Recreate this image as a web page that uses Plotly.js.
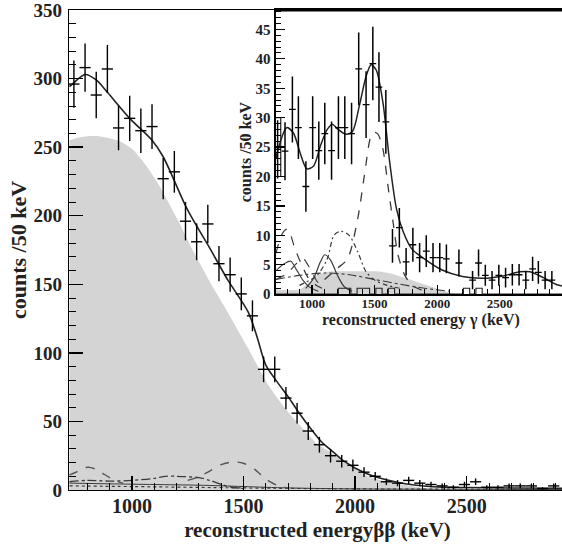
<!DOCTYPE html>
<html>
<head>
<meta charset="utf-8">
<script src="https://cdn.plot.ly/plotly-3.0.1.min.js"></script>
<style>
html,body{margin:0;padding:0;overflow:hidden;background:#fff;width:562px;height:548px;}
#chart{width:566px;height:548px;}
</style>
</head>
<body>
<div id="chart"></div>
<script>
// ---------- main panel: ββ energy ----------
var mainX = [740,790,840,890,940,990,1040,1090,1140,1190,1240,1290,1340,1390,1440,1490,1540,1590,1640,1690,1740,1790,1840,1890,1940,1990,2040,2090,2140,2190,2240,2290,2340,2390,2440,2490,2540,2590,2640,2690,2740,2790,2840,2890];
var mainY = [296,308,288,307,264,271,262,265,227,232,196,181,194,165,157,143,127,88,88,67,56,43,33,25,21,18,13,10,6,5,7,5,4,3,2,4,6,2,2,3,3,3,1,3];

var fitX = [720,740,790,840,890,990,1090,1140,1250,1350,1430,1520,1560,1600,1650,1700,1750,1800,1850,1900,1950,2050,2200,2350,2500,2700,2950];
var fitY = [294,297,303,299,290,271,255,243,204,176,153,130,112,91,79,68,56,45,35,28,21,12,5.3,2.4,1.8,1.5,1.2];

var bbX = [720,760,800,850,900,950,1006,1066,1126,1202,1277,1352,1428,1518,1609,1684,1759,1835,1895,1950,2045,2120,2196,2271,2347,2400];
var bbY = [255,257,258,258,256.5,254,248,236,221,198,173.5,151,130,104,77,60,46,33,27,21,11,7,4.5,2.4,0.6,0];

var compAX = [720,750,780,810,840,870,900,930,960];
var compAY = [11,13,16,16.5,15,12,9,6.5,5];
var compBX = [1250,1300,1350,1400,1455,1500,1550,1600,1650,1700];
var compBY = [7,9.6,14,18.5,20.5,19.5,15,8,3.5,1.5];
var compCX = [720,800,900,1000,1100,1150,1200,1300,1350,1400,1450,1500];
var compCY = [6,7,6.5,7,8.5,10,10,9,7,4,2,1];
var compDX = [720,900,1100,1300,1500,1700,2000,2500,2950];
var compDY = [5,4.5,4,3.5,2.5,1.5,0.8,0.5,0.3];
var compEX = [720,1000,1500,2000,2950];
var compEY = [3,2.5,1.5,0.8,0.4];

// ---------- inset panel: γ energy ----------
var insX = [725,784,843,891,951,1005,1054,1102,1156,1211,1262,1316,1373,1432,1486,1535,1590,1643,1698,1752,1806,1860,1913,1967,2021,2074,2174,2283,2331,2385,2439,2493,2547,2601,2655,2709,2763,2809,2863,2917];
var insY = [24.6,24.3,31.4,28.3,18.3,28.3,24.4,27.3,24.4,28.3,28.3,27.3,38.3,32.2,39.2,35.2,29.3,8.2,11.3,5.5,8.4,6.2,7.3,6.2,6.2,6,5.3,2.4,5.3,3.2,2.4,3.2,2.8,3.3,3.3,2.4,4.3,3.7,2.4,2.4];

var insFitX = [712,721,797,851,905,959,1013,1067,1122,1162,1203,1270,1324,1378,1432,1472,1513,1567,1621,1675,1729,1797,1878,2040,2202,2364,2526,2661,2742,2850,2958,3030];
var insFitY = [23,24,28.3,27.4,24,21.3,21.8,25.2,28,28.9,28.1,27.2,27.7,32,37,39,38.1,32.5,22.4,14.5,10.6,7.7,6.3,4.1,3,2.7,3.1,3.8,3.8,2.8,1.6,1.3];

var gPeakX = [1100,1203,1284,1365,1418,1472,1500,1527,1567,1607,1648,1688,1742,1800,1900];
var gPeakY = [2.5,4.4,6,12.8,20.1,26.9,27.5,27.2,24.6,18.4,12.2,6.6,3.2,1.5,0.5];
var gMidX = [900,1040,1122,1175,1229,1297,1365,1432,1500,1600,1700];
var gMidY = [1.5,3.2,6,10,10.7,10,7.2,3.8,2.4,1.5,1];
var gLeftX = [712,756,790,810,864,919,972,1027,1080];
var gLeftY = [7,10,11,11,7.7,4.9,2.7,1.6,1];
var gSmallX = [950,1013,1067,1102,1148,1203,1256,1320];
var gSmallY = [1,2.7,5.5,6.7,5.8,3.2,1.3,0.5];
var gLeft2X = [712,780,830,880,930,980,1050];
var gLeft2Y = [4,5.2,5.6,4,2.3,1.2,0.5];
var gDashX = [712,800,880,930,980,1030,1080];
var gDashY = [2.5,3.5,5.3,6,4.5,2.5,1];
var gLongX = [712,900,1100,1300,1500,1700,1900,2100];
var gLongY = [2.5,3.2,3.6,3.3,2.5,1.7,1,0.5];
var gAreaX = [712,900,950,1000,1050,1121,1200,1300,1400,1500,1553,1650,1750,1850,1950,2050,2145];
var gAreaY = [0.8,0.8,1.5,2.5,3.3,3.8,3.9,3.9,3.9,3.9,3.8,3.4,2.7,2,1.3,0.6,0];
var stepX = [712,1210,1260,1310,1360,1410,1460,1510,1560,1610,1660,1710,2210,2260,2310,2360,2410,3030];
var stepY = [0,1,1,0,1,1,0,1,0,1,0,0,1,0,1,0,0,0];
var boxX = [712,750,750,712];
var boxY = [30,30,20,20];

var FONT = 'Liberation Serif, Times New Roman, serif';
var lineGray = '#3a3a3a';

function ln(x, y, dash, ax, w, col) {
  return {x:x, y:y, type:'scatter', mode:'lines', xaxis:ax[0], yaxis:ax[1],
    line:{color:col||lineGray, width:w||1.2, dash:dash||'solid', shape:'spline', smoothing:0.8},
    hoverinfo:'skip', showlegend:false};
}
var M = ['x','y'], I = ['x2','y2'];

var traces = [
  {x:bbX, y:bbY, type:'scatter', mode:'lines', fill:'tozeroy', fillcolor:'#d4d4d4',
   line:{color:'#d4d4d4', width:0, shape:'spline', smoothing:0.6}, hoverinfo:'skip', showlegend:false},
  ln(compEX, compEY, 'dot', M, 1.2),
  ln(compDX, compDY, 'solid', M, 1.0),
  ln(compCX, compCY, 'dashdot', M, 1.3),
  ln(compAX, compAY, 'dash', M, 1.4, '#555'),
  ln(compBX, compBY, 'dash', M, 1.4, '#555'),
  ln(fitX, fitY, 'solid', M, 1.6, '#222'),
  {x:mainX, y:mainY, type:'scatter', mode:'markers', marker:{size:1, color:'#000'},
   error_x:{type:'constant', value:25, width:0, thickness:1.4, color:'#000'},
   error_y:{type:'sqrt', width:0, thickness:1.4, color:'#000'},
   hoverinfo:'skip', showlegend:false},

  // inset
  {x:gAreaX, y:gAreaY, type:'scatter', mode:'lines', fill:'tozeroy', fillcolor:'#d4d4d4',
   xaxis:'x2', yaxis:'y2', line:{color:'#d4d4d4', width:0, shape:'spline'}, hoverinfo:'skip', showlegend:false},
  {x:stepX, y:stepY, type:'scatter', mode:'lines', xaxis:'x2', yaxis:'y2',
   line:{color:'#222', width:1.1, shape:'hv'}, hoverinfo:'skip', showlegend:false},
  {x:boxX, y:boxY, type:'scatter', mode:'lines', xaxis:'x2', yaxis:'y2',
   line:{color:'#222', width:1.2}, hoverinfo:'skip', showlegend:false},
  ln(gLongX, gLongY, 'dashdot', I, 1.1),
  ln(gDashX, gDashY, 'dash', I, 1.1),
  ln(gLeft2X, gLeft2Y, 'solid', I, 1.1),
  ln(gSmallX, gSmallY, 'solid', I, 1.2),
  ln(gLeftX, gLeftY, 'dash', I, 1.2),
  ln(gMidX, gMidY, '5px,3px,2px,3px', I, 1.2),
  ln(gPeakX, gPeakY, 'dash', I, 1.3),
  ln(insFitX, insFitY, 'solid', I, 1.5, '#222'),
  {x:insX, y:insY, type:'scatter', mode:'markers', xaxis:'x2', yaxis:'y2', marker:{size:1, color:'#000'},
   error_x:{type:'constant', value:27, width:0, thickness:1.3, color:'#000'},
   error_y:{type:'sqrt', width:0, thickness:1.5, color:'#000'},
   hoverinfo:'skip', showlegend:false}
];

var axBase = {showgrid:false, zeroline:false, showline:true, linecolor:'#000', ticks:'inside',
  tickcolor:'#000'};

var layout = {
  width:566, height:548,
  margin:{l:69, r:0, t:10, b:58},
  paper_bgcolor:'#fff', plot_bgcolor:'#fff',
  font:{family:FONT, color:'#111'},
  showlegend:false,
  xaxis:Object.assign({}, axBase, {
    range:[718,2945], domain:[0,1], anchor:'y', mirror:true, linewidth:1.3,
    tick0:0, dtick:500, ticklen:14, tickwidth:1.3, ticklabelstandoff:-2,
    minor:{dtick:100, ticklen:7, tickwidth:1, ticks:'inside', tickcolor:'#000'},
    tickfont:{family:FONT, size:20, weight:'bold', color:'#222'},
    title:{text:'reconstructed energyββ (keV)', font:{family:FONT, size:21, weight:'bold', color:'#222'}, standoff:6}
  }),
  yaxis:Object.assign({}, axBase, {
    range:[0,350], domain:[0,1], anchor:'x', mirror:true, linewidth:1.3, ticklabeloverflow:'allow',
    tick0:0, dtick:50, ticklen:14, tickwidth:1.3, ticklabelstandoff:2,
    minor:{dtick:10, ticklen:7, tickwidth:1, ticks:'inside', tickcolor:'#000'},
    tickfont:{family:FONT, size:19, weight:'bold', color:'#222'},
    title:{text:'counts /50 keV', font:{family:FONT, size:22, weight:'bold', color:'#222'}, standoff:0}
  }),
  xaxis2:Object.assign({}, axBase, {
    range:[712,3030], domain:[0.4165,1], anchor:'y2', mirror:true, linewidth:2,
    tick0:0, dtick:500, ticklen:9, tickwidth:1.2, ticklabelstandoff:-4,
    minor:{dtick:100, ticklen:5, tickwidth:1, ticks:'inside', tickcolor:'#000'},
    tickfont:{family:FONT, size:13, weight:'bold', color:'#222'}
  }),
  yaxis2:Object.assign({}, axBase, {
    range:[0,48.3], domain:[0.408,1], anchor:'x2', linewidth:1.6,
    tick0:0, dtick:5, ticklen:9, tickwidth:1.2, ticklabelstandoff:1,
    minor:{dtick:1, ticklen:5, tickwidth:1, ticks:'inside', tickcolor:'#000'},
    tickfont:{family:FONT, size:15, weight:'bold', color:'#222'},
    title:{text:'counts /50 keV', font:{family:FONT, size:16, weight:'bold', color:'#222'}, standoff:0}
  }),
  annotations:[
    {text:'reconstructed energy γ (keV)', xref:'paper', yref:'paper', x:0.7082, y:0.354,
     xanchor:'center', yanchor:'middle', showarrow:false,
     font:{family:FONT, size:16, weight:'bold', color:'#222'}}
  ],
  shapes:[
    {type:'line', xref:'paper', yref:'paper', x0:0.4165, x1:1.01, y0:1, y1:1,
     line:{color:'#000', width:3}, layer:'above'}
  ]
};

Plotly.newPlot('chart', traces, layout, {staticPlot:true, displayModeBar:false});
</script>
</body>
</html>
